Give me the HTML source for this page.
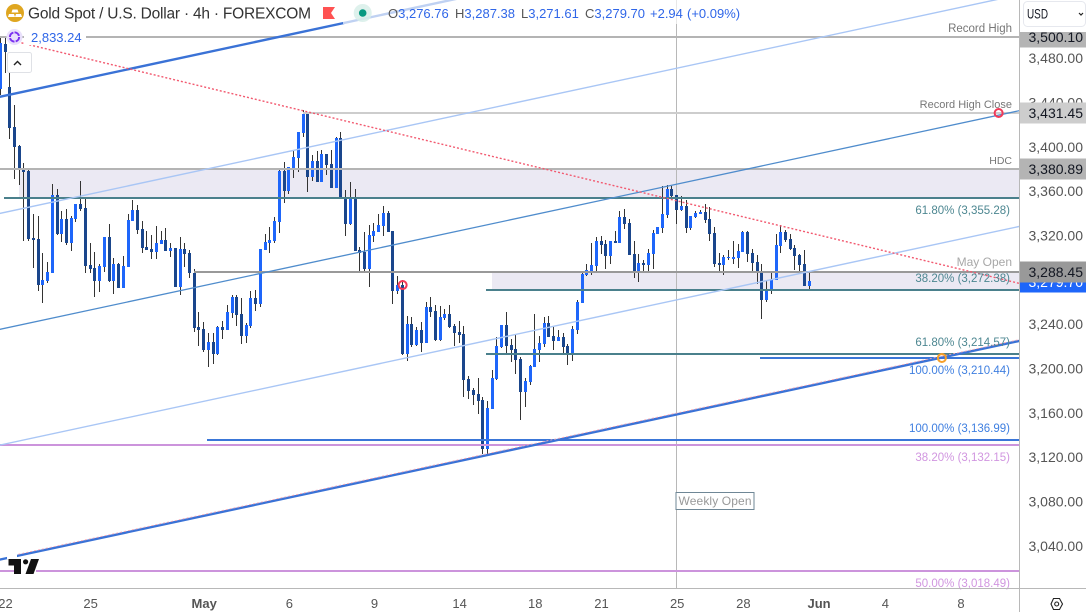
<!DOCTYPE html>
<html lang="en">
<head>
<meta charset="utf-8">
<title>Gold Spot / U.S. Dollar 4h chart</title>
<style>
html,body{margin:0;padding:0;background:#fff;width:1086px;height:612px;overflow:hidden}
#chart{position:absolute;left:0;top:0;display:block}
text{font-family:"Liberation Sans",sans-serif}
.note{font-size:11.5px;text-anchor:end}
.n-grey{fill:#777}
.n-light{fill:#a8a8a8}
.n-teal{fill:#4d8791}
.n-blue{fill:#3f7fe0}
.n-purple{fill:#d196e0}
.tick{font-size:14px;fill:#555;text-anchor:end}
.xtick{font-size:13px;fill:#555;text-anchor:middle}
.xtick.major{font-weight:bold}
.lv-grey{fill:#b4b4b4}
.lv-light{fill:#cdcdcd}
.lv-dark{fill:#999}
.lv-teal{fill:#4a808c}
.lv-blue{fill:#3a76d8}
.lv-purple{fill:#cc94dc}
.tl-thick{stroke:#3a72d6;stroke-width:2.4;fill:none}
.tl-mid{stroke:#4f8ccc;stroke-width:1.3;fill:none}
.tl-light{stroke:#a9c6f5;stroke-width:1.4;fill:none}
.tl-red{stroke:#f25a70;stroke-width:1.4;stroke-dasharray:2 2;fill:none}
.tl-pink{stroke:#f7a6b2;stroke-width:0.9;stroke-dasharray:2 2;fill:none}
</style>
</head>
<body>
<svg id="chart" width="1086" height="612" viewBox="0 0 1086 612" xmlns="http://www.w3.org/2000/svg">
  <defs><clipPath id="plot-clip"><rect x="0" y="0" width="1019" height="588"/></clipPath></defs>
  <rect x="0" y="0" width="1086" height="612" fill="#fff"/>
  <g id="zones" clip-path="url(#plot-clip)"></g>
  <g id="weekly" clip-path="url(#plot-clip)"></g>
  <g id="candles" clip-path="url(#plot-clip)"></g>
  <g id="levels" clip-path="url(#plot-clip)"></g>
  <g id="trends" clip-path="url(#plot-clip)"></g>
  <g id="markers" clip-path="url(#plot-clip)"></g>

  <g>
    <text class="note n-grey" x="1012" y="32">Record High</text>
    <text class="note n-grey" x="1012" y="108" font-size="11" style="font-size:11px">Record High Close</text>
    <text class="note n-grey" x="1012" y="164" style="font-size:10.5px">HDC</text>
    <text class="note n-teal" x="1010" y="214">61.80% (3,355.28)</text>
    <text class="note n-light" x="1012" y="266" style="font-size:12px">May Open</text>
    <text class="note n-teal" x="1010" y="282">38.20% (3,272.38)</text>
    <text class="note n-teal" x="1010" y="346">61.80% (3,214.57)</text>
    <text class="note n-blue" x="1010" y="374">100.00% (3,210.44)</text>
    <text class="note n-blue" x="1010" y="432">100.00% (3,136.99)</text>
    <text class="note n-purple" x="1010" y="461">38.20% (3,132.15)</text>
    <text class="note n-purple" x="1010" y="587">50.00% (3,018.49)</text>
    <rect x="676" y="492.5" width="78" height="17" fill="#fff" stroke="#6f8796" stroke-width="1"/>
    <text x="678.5" y="505" font-size="12" fill="#999" textLength="73" lengthAdjust="spacing">Weekly Open</text>
  </g>

  <!-- legend -->
  <rect x="343" y="0" width="397" height="24" fill="#fff" fill-opacity="0.68"/>
  <g>
    <circle cx="15" cy="13" r="9" fill="#dfa620"/>
    <path d="M12.5 9.5h5l1 3h-7zM9 14h5l1 3H8zM16 14h5l1 3h-7z" fill="#fff"/>
    <text x="28" y="18.5" font-size="15.5" fill="#333" textLength="283" lengthAdjust="spacing">Gold Spot / U.S. Dollar · 4h · FOREXCOM</text>
    <polygon points="323,7 335,7 331,13 335,19 323,19" fill="#ff5252"/>
    <circle cx="362.7" cy="13" r="9" fill="#d8efe9" fill-opacity="0.85"/>
    <circle cx="362.7" cy="13" r="3.8" fill="#089981"/>
    <text x="388" y="18" font-size="13" fill="#2f66e8"><tspan fill="#555">O</tspan>3,276.76</text>
    <text x="455" y="18" font-size="13" fill="#2f66e8"><tspan fill="#555">H</tspan>3,287.38</text>
    <text x="521" y="18" font-size="13" fill="#2f66e8"><tspan fill="#555">L</tspan>3,271.61</text>
    <text x="585" y="18" font-size="13" fill="#2f66e8"><tspan fill="#555">C</tspan>3,279.70</text>
    <text x="650" y="18" font-size="13" fill="#2f66e8">+2.94</text>
    <text x="687" y="18" font-size="13" fill="#2f66e8">(+0.09%)</text>
    <rect x="24" y="29" width="62" height="16" fill="#fff"/>
    <circle cx="14.5" cy="37" r="8" fill="#e9e0fb"/>
    <circle cx="14.5" cy="37" r="4.6" fill="none" stroke="#7a2ff0" stroke-width="2" stroke-dasharray="6 1.2"/>
    <text x="31" y="42" font-size="13" fill="#2f66e8">2,833.24</text>
    <rect x="7.5" y="52.5" width="24" height="20" rx="2" fill="#fff" fill-opacity="0.82" stroke="#dfe1e6"/>
    <path d="M14 65l3.5-3.5 3.5 3.5" fill="none" stroke="#222" stroke-width="1.4"/>
  </g>

  <!-- logo -->
  <g>
    <rect x="7" y="552" width="10" height="7" fill="#fff"/>
    <rect x="14" y="565" width="22" height="9" fill="#fff"/>
    <polygon points="8.5,559 21,559 21,574 14,574 14,565.5 8.5,565.5" fill="#111"/>
    <circle cx="25.6" cy="561.8" r="2.6" fill="#111"/>
    <polygon points="31,559 39,559 33.5,574 25.5,574" fill="#111"/>
  </g>

  <!-- axes -->
  <rect x="1020" y="0" width="66" height="588" fill="#fff"/>
  <g id="price-ticks"></g>
  <g id="price-tags"></g>
  <rect x="1020" y="0" width="66" height="32" fill="#fff"/>
  <rect x="1023.5" y="1.5" width="62" height="25" rx="4" fill="#fff" stroke="#e6e8ee"/>
  <text x="1027" y="18.5" font-size="14" fill="#131722" textLength="21" lengthAdjust="spacingAndGlyphs">USD</text>
  <path d="M1079 13l2 2 2-2" fill="none" stroke="#222" stroke-width="1.2"/>
  <rect x="0" y="588" width="1086" height="1" fill="#b8b8b8"/>
  <rect x="1019" y="0" width="1" height="612" fill="#b8b8b8"/>
  <g id="time-ticks"></g>
  <g>
    <polygon points="1051,604 1053.5,598.5 1059.5,598.5 1062.5,604 1059.5,609.5 1053.5,609.5" fill="none" stroke="#222" stroke-width="1.1"/>
    <circle cx="1056.7" cy="604" r="2" fill="none" stroke="#222" stroke-width="1.1"/>
  </g>
</svg>

<script>
const opens = [
3453.0,3493.6,3454.8,3418.7,3401.6,3380.8,3379.0,3318.6,3317.7,3276.2,
3279.8,3287.0,3357.4,3322.2,3335.7,3314.1,3335.7,3349.3,3345.7,3294.2,
3291.5,3279.8,3292.4,3319.5,3279.8,3295.1,3273.5,3292.4,3333.9,3343.9,
3326.7,3310.5,3308.7,3306.0,3313.2,3316.8,3306.9,3309.6,3274.4,3308.7,
3305.1,3287.0,3238.3,3236.5,3217.6,3224.8,3214.0,3238.3,3235.6,3250.9,
3265.4,3250.0,3230.2,3239.2,3264.5,3259.1,3307.8,3314.1,3315.9,3333.0,
3379.0,3361.0,3381.7,3390.8,3413.3,3430.5,3373.6,3388.1,3369.1,3394.4,
3385.4,3363.7,3408.8,3354.7,3331.2,3354.7,3307.8,3306.0,3290.6,3320.4,
3324.0,3329.4,3341.2,3324.9,3270.8,3276.2,3214.0,3241.0,3222.1,3235.6,
3223.9,3256.4,3252.7,3226.6,3246.4,3250.0,3239.2,3233.8,3232.0,3191.4,
3181.5,3177.9,3172.5,3128.3,3164.3,3191.4,3220.3,3240.1,3222.1,3218.5,
3209.4,3179.7,3188.7,3202.2,3217.6,3223.0,3241.9,3230.2,3225.7,3229.3,
3221.2,3214.9,3235.6,3260.0,3285.2,3288.8,3293.3,3315.9,3313.2,3302.4,
3315.9,3314.1,3337.5,3332.1,3304.2,3288.8,3296.0,3294.2,3304.2,3322.2,
3327.6,3339.4,3362.8,3357.4,3343.9,3347.5,3327.6,3337.5,3340.3,3342.1,
3335.7,3323.1,3296.0,3294.2,3300.6,3299.7,3300.6,3306.0,3324.0,3305.1,
3297.0,3287.9,3262.7,3271.7,3280.7,3311.4,3324.0,3317.7,3309.6,3303.3,
3295.1,3275.3];
const highs = [
3500.0,3499.9,3467.4,3438.6,3402.5,3386.3,3379.9,3340.3,3338.4,3305.1,
3297.0,3367.3,3362.8,3343.0,3344.8,3338.4,3349.3,3370.0,3353.8,3314.1,
3306.0,3295.1,3319.5,3331.2,3300.6,3296.0,3302.4,3340.3,3352.9,3348.4,
3333.9,3324.9,3321.3,3329.4,3324.9,3327.6,3314.1,3309.6,3319.5,3314.1,
3307.8,3290.6,3251.8,3242.8,3232.9,3232.9,3239.2,3243.7,3258.2,3267.2,
3267.2,3264.5,3241.9,3270.8,3271.7,3308.7,3322.2,3328.5,3337.5,3379.9,
3387.2,3382.6,3397.1,3414.2,3434.1,3431.4,3393.5,3397.1,3398.0,3394.4,
3398.0,3409.7,3414.2,3361.9,3369.1,3362.8,3310.5,3324.0,3330.3,3332.1,
3340.3,3347.5,3343.0,3324.9,3284.3,3280.7,3248.2,3247.3,3238.3,3242.8,
3260.9,3265.4,3258.2,3257.3,3254.5,3258.2,3241.0,3243.7,3239.2,3194.1,
3183.3,3192.3,3175.2,3171.6,3199.5,3229.3,3240.1,3251.8,3227.5,3231.1,
3211.2,3192.3,3204.0,3250.0,3230.2,3247.3,3248.2,3238.3,3235.6,3232.9,
3223.0,3239.2,3262.7,3287.0,3295.1,3314.1,3319.5,3320.4,3316.8,3315.9,
3324.9,3343.0,3344.8,3335.7,3315.9,3304.2,3298.8,3308.7,3325.8,3328.5,
3365.5,3366.4,3365.5,3357.4,3356.5,3352.9,3338.4,3343.0,3343.9,3349.3,
3346.6,3328.5,3305.1,3303.3,3307.8,3315.9,3313.2,3324.9,3324.9,3308.7,
3303.3,3295.1,3279.8,3287.0,3322.2,3330.3,3325.8,3322.2,3312.3,3304.2,
3307.8,3287.0];
const lows = [
3447.6,3467.4,3407.9,3371.8,3366.4,3315.9,3315.9,3291.5,3270.8,3260.0,
3278.0,3287.0,3321.3,3315.0,3312.3,3306.9,3333.0,3343.0,3287.0,3287.0,
3265.4,3269.9,3287.9,3278.9,3268.1,3273.5,3273.5,3292.4,3333.9,3322.2,
3305.1,3307.8,3299.7,3299.7,3313.2,3306.9,3301.5,3274.4,3267.2,3292.4,
3282.5,3233.8,3221.2,3215.8,3202.2,3204.9,3213.1,3227.5,3235.6,3246.4,
3239.2,3223.0,3223.9,3237.4,3252.7,3256.4,3307.8,3305.1,3314.1,3323.1,
3350.2,3358.3,3372.7,3378.1,3409.7,3360.1,3370.0,3369.1,3369.1,3375.4,
3363.7,3363.7,3354.7,3320.4,3330.3,3306.9,3288.8,3288.8,3274.4,3315.0,
3324.0,3320.4,3324.0,3259.1,3268.1,3213.1,3207.6,3220.3,3221.2,3215.8,
3223.9,3247.3,3225.7,3225.7,3244.6,3237.4,3221.2,3223.9,3175.2,3173.4,
3167.9,3159.8,3123.8,3122.8,3164.3,3190.5,3219.4,3214.9,3206.7,3195.9,
3154.4,3166.1,3186.0,3202.2,3206.7,3220.3,3229.3,3217.6,3225.7,3214.0,
3204.0,3207.6,3232.0,3260.0,3284.3,3285.2,3288.8,3304.2,3290.6,3295.1,
3314.1,3314.1,3326.7,3303.3,3282.5,3278.9,3288.8,3288.8,3290.6,3322.2,
3323.1,3336.6,3353.8,3331.2,3343.0,3323.1,3325.8,3336.6,3340.3,3332.1,
3315.9,3292.4,3288.8,3285.2,3298.8,3295.1,3291.5,3306.0,3297.0,3287.9,
3277.1,3245.5,3260.9,3268.1,3280.7,3305.1,3315.0,3307.8,3289.7,3288.8,
3275.3,3272.6];
const closes = [
3494.5,3486.4,3417.8,3400.7,3381.7,3378.1,3317.7,3316.8,3276.2,3280.7,
3287.9,3357.4,3322.2,3335.7,3314.1,3336.6,3349.3,3344.8,3293.3,3290.6,
3279.8,3293.3,3319.5,3279.8,3295.1,3273.5,3293.3,3334.8,3343.9,3325.8,
3309.6,3307.8,3306.0,3314.1,3316.8,3306.9,3309.6,3274.4,3308.7,3304.2,
3287.0,3237.4,3235.6,3217.6,3224.8,3214.0,3238.3,3235.6,3251.8,3265.4,
3249.1,3230.2,3240.1,3264.5,3259.1,3308.7,3315.0,3316.8,3333.9,3379.0,
3361.0,3382.6,3391.7,3414.2,3430.5,3373.6,3388.1,3369.1,3394.4,3384.5,
3363.7,3408.8,3354.7,3331.2,3354.7,3306.9,3305.1,3290.6,3321.3,3324.9,
3330.3,3341.2,3324.0,3270.8,3276.2,3214.0,3241.0,3222.1,3235.6,3223.9,
3256.4,3251.8,3226.6,3247.3,3250.0,3238.3,3232.9,3231.1,3190.5,3180.6,
3177.0,3171.6,3128.3,3165.2,3192.3,3221.2,3240.1,3221.2,3217.6,3208.5,
3179.7,3189.6,3203.1,3218.5,3223.9,3241.9,3229.3,3225.7,3229.3,3220.3,
3214.9,3236.5,3260.9,3286.1,3289.7,3294.2,3315.9,3312.3,3302.4,3315.9,
3314.1,3337.5,3331.2,3303.3,3288.8,3296.0,3294.2,3305.1,3323.1,3328.5,
3340.3,3362.8,3356.5,3343.9,3347.5,3327.6,3338.4,3341.2,3342.1,3334.8,
3322.2,3295.1,3294.2,3301.5,3301.5,3301.5,3306.9,3324.0,3304.2,3296.0,
3288.8,3262.7,3271.7,3281.6,3312.3,3324.0,3316.8,3308.7,3302.4,3294.2,
3275.3,3279.8];

const priceTicks = [3480,3440,3400,3360,3320,3240,3200,3160,3120,3080,3040];
const timeTickBars = [1,19,43,61,79,97,113,127,143,157,173,187,203];
const timeTickLabels = ['22','25','May','6','9','14','18','21','25','28','Jun','4','8'];
const majorTimeLabels = ['May','Jun'];

const levelPrices = [3500.10,3431.45,3380.89,3355.28,3288.45,3272.38,3214.57,3210.44,3136.99,3132.15,3018.49];
const levelStartBars = [0,64,0,0.7,41,102.7,102.7,160.6,43.7,0,0];
const levelKinds = ['grey','light','grey','teal','dark','teal','teal','blue','blue','purple','purple'];

const zoneTops = [3380.89,3288.45];
const zoneBottoms = [3355.28,3272.38];
const zoneStartBars = [4,104];

const trendBarsFrom = [-1,-1,-1,-1,-1,2,3];
const trendBarsTo = [216,216,216,216,216,216,216];
const trendPricesFrom = [3445.2,3340.0,3235.4,3131.0,3027.7,3497.2,3032.6];
const trendPricesTo = [3643.8,3538.6,3434.0,3329.6,3226.3,3277.1,3227.5];
const trendKinds = ['thick','light','mid','light','thick','red','pink'];

const tagPrices = [3500.10,3431.45,3380.89,3279.70,3288.45];
const tagKinds = ['grey','light','grey','last','dark'];

const ringBars = [85,211,199];
const ringPrices = [3276.2,3431.4,3210.4];
const ringKinds = ['red','red','orange'];

const weeklyOpenBar = 143;

const NS = 'http://www.w3.org/2000/svg';
function xScale(bar) { return 0.3 + 4.73 * bar; }
function yScale(price) { return 369.5 - (price - 3200) * 1.1085; }
function make(tag, parent, attrs) {
  const el = document.createElementNS(NS, tag);
  for (const k in attrs) el.setAttribute(k, attrs[k]);
  parent.appendChild(el);
  return el;
}
function fmt(p) {
  return p.toFixed(2).replace(/\B(?=(\d{3})(?!\d))/g, ',');
}

const zonesG = document.getElementById('zones');
zoneTops.forEach(function (top, i) {
  const x0 = Math.floor(xScale(zoneStartBars[i]));
  const y0 = Math.ceil(yScale(top));
  const y1 = Math.ceil(yScale(zoneBottoms[i]));
  const el = make('rect', zonesG, { x: x0, y: y0, width: 1019 - x0, height: y1 - y0, fill: '#ebe9f3' });
  
  
});

const weeklyG = document.getElementById('weekly');
const weeklyLine = make('rect', weeklyG, { x: Math.floor(xScale(weeklyOpenBar)), y: 0, width: 1, height: 588, fill: '#b8b8b8' });



const candlesG = document.getElementById('candles');
opens.forEach(function (open, i) {
  const col = Math.floor(xScale(i));
  const up = closes[i] >= open;
  const yH = Math.round(yScale(highs[i]));
  const yL = Math.round(yScale(lows[i]));
  const yTop = Math.round(yScale(Math.max(open, closes[i])));
  const yBot = Math.round(yScale(Math.min(open, closes[i])));
  const wick = make('rect', candlesG, { x: col, y: yH, width: 1, height: Math.max(1, yL - yH), fill: '#333' });
  
  
  const body = make('rect', candlesG, { x: col - 1, y: yTop, width: 3, height: Math.max(1, yBot - yTop), fill: up ? '#1e66fa' : '#1a468c' });
  
  
});

const levelsG = document.getElementById('levels');
levelPrices.forEach(function (price, i) {
  const x0 = Math.round(xScale(levelStartBars[i]));
  const yc = Math.ceil(yScale(price));
  const el = make('rect', levelsG, { x: x0, y: yc - 1, width: 1019 - x0, height: 2, 'class': 'lv-' + levelKinds[i] });
  
  
});

const trendsG = document.getElementById('trends');
trendKinds.forEach(function (kind, i) {
  const el = make('line', trendsG, {
    x1: xScale(trendBarsFrom[i]), y1: yScale(trendPricesFrom[i]),
    x2: xScale(trendBarsTo[i]), y2: yScale(trendPricesTo[i]),
    'class': 'tl-' + kind
  });
  
  
});

const markersG = document.getElementById('markers');
ringBars.forEach(function (bar, i) {
  const el = make('circle', markersG, {
    cx: xScale(bar) + 0.3, cy: yScale(ringPrices[i]), r: 4,
    fill: 'none', stroke: ringKinds[i] === 'red' ? '#f23a58' : '#f6a02a', 'stroke-width': 2
  });
  
  
});

const priceG = document.getElementById('price-ticks');
priceTicks.forEach(function (price) {
  const el = make('text', priceG, { x: 1083, y: yScale(price) + 4, 'class': 'tick' });
  el.textContent = fmt(price);
  
  
});

const tagsG = document.getElementById('price-tags');
tagPrices.forEach(function (price, i) {
  const kind = tagKinds[i];
  const yc = Math.ceil(yScale(price));
  const fill = kind === 'grey' ? '#b4b4b4' : kind === 'light' ? '#cdcdcd' : kind === 'dark' ? '#999' : '#1e66fa';
  const box = make('rect', tagsG, { x: 1020, y: yc - 10.5, width: 66, height: 21, fill: fill });
  
  
  const label = make('text', tagsG, { x: 1083, y: yc + 5, 'font-size': 14, 'text-anchor': 'end', fill: kind === 'last' ? '#fff' : '#131722' });
  label.textContent = fmt(price);
  
  
});

const timeG = document.getElementById('time-ticks');
timeTickLabels.forEach(function (label, i) {
  const cls = majorTimeLabels.indexOf(label) >= 0 ? 'xtick major' : 'xtick';
  const el = make('text', timeG, { x: xScale(timeTickBars[i]) + 0.5, y: 608, 'class': cls });
  el.textContent = label;
  
  
});
</script>
</body>
</html>
